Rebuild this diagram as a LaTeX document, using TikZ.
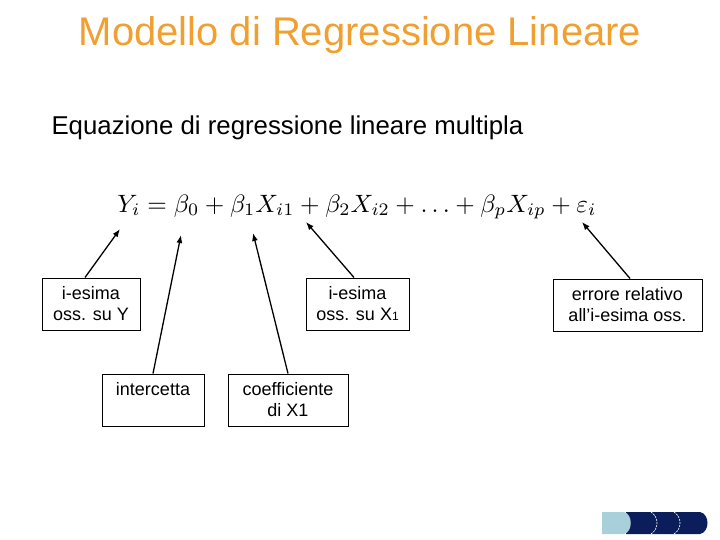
\documentclass[tikz,border=0pt]{standalone}
\usepackage{fontspec}
\setmainfont{Liberation Sans}
\usetikzlibrary{arrows.meta}
\definecolor{titleor}{HTML}{F0A030}
\definecolor{lblue}{HTML}{A8D0DA}
\definecolor{navy}{HTML}{0B1E5B}
\tikzset{
  lbl/.style={draw=black, line width=0.8pt, fill=white, align=center, font=\fontsize{18}{21}\selectfont, inner sep=0pt},
  arr/.style={line width=1.3pt, -{Latex[length=8pt,width=6pt]}}
}
\begin{document}
\begin{tikzpicture}[x=1pt,y=-1pt]
\useasboundingbox (0,0) rectangle (720,540);
\node[text=titleor, font=\fontsize{40}{44}\selectfont] (title) at (360,35) {Modello di Regressione Lineare};
\node[anchor=west, font=\fontsize{25.8}{30}\selectfont] (sub) at (48,128) {Equazione di regressione lineare multipla};
\node[inner sep=0pt] (eq) at (357,207) {\resizebox{479pt}{!}{$Y_i=\beta_0+\beta_1X_{i1}+\beta_2X_{i2}+\ldots+\beta_pX_{ip}+\varepsilon_i$}};
\coordinate (t1) at (120,229);
\coordinate (t2) at (181,235);
\coordinate (t3) at (253,233);
\coordinate (t4) at (306,222);
\coordinate (t5) at (582,222);
\node[lbl, minimum width=98pt, minimum height=52pt] (b1) at (91,304) {i-esima\\oss. su Y};
\node[lbl, minimum width=102pt, minimum height=52pt, text depth=31pt, text height=21pt] (b2) at (153,400) {intercetta};
\node[lbl, minimum width=120pt, minimum height=52pt] (b3) at (288,400) {coefficiente\\di X1};
\node[lbl, minimum width=103pt, minimum height=52pt] (b4) at (357.5,304) {i-esima\\oss. su X{\fontsize{12}{13}\selectfont 1}};
\node[lbl, minimum width=149pt, minimum height=52pt] (b5) at (627.5,305) {errore relativo\\all’i-esima oss.};
\draw[arr] (85,277.5) -- (t1);
\draw[arr] (153,373.5) -- (t2);
\draw[arr] (288,373.5) -- (t3);
\draw[arr] (354,277.5) -- (t4);
\draw[arr] (630,278.5) -- (t5);
% bottom-right decoration
\fill[navy] (626,512) -- (700,512) .. controls (710,514) and (710,532) .. (700,534) -- (626,534) -- cycle;
\fill[lblue] (602,512) -- (624,512) .. controls (633,514) and (633,532) .. (624,534) -- (602,534) -- cycle;
\draw[white, line width=0.6pt, dashed, dash pattern=on 2pt off 1pt] (651,512) .. controls (659,517) and (659,529) .. (651,534);
\draw[white, line width=0.6pt, dashed, dash pattern=on 2pt off 1pt] (674,512) .. controls (682,517) and (682,529) .. (674,534);
\end{tikzpicture}
\end{document}
